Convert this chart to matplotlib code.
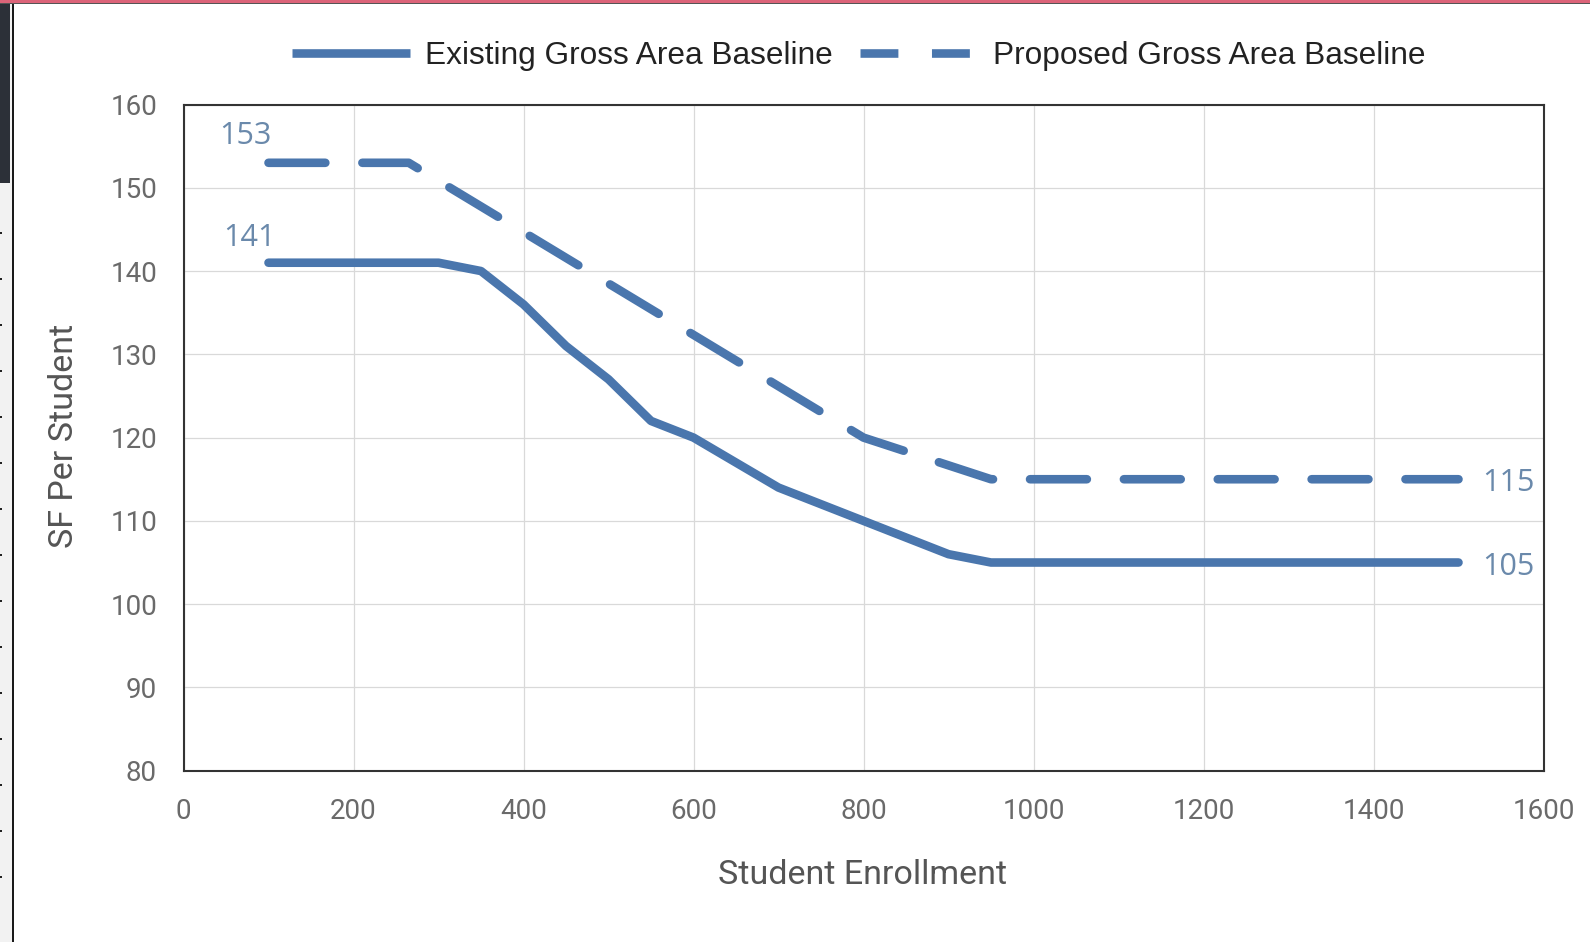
import matplotlib
matplotlib.use("Agg")
import matplotlib.pyplot as plt
from matplotlib.lines import Line2D
from matplotlib.patches import Rectangle

# Square feet per student vs. enrollment
enrollment_existing = [100, 300, 350, 400, 450, 500, 550, 600, 700, 800, 900, 950, 1500]
sf_existing = [141, 141, 140, 136, 131, 127, 122, 120, 114, 110, 106, 105, 105]
enrollment_proposed = [100, 265, 800, 950, 1500]
sf_proposed = [153, 153, 120, 115, 115]

series_names = ["Existing Gross Area Baseline", "Proposed Gross Area Baseline"]
x_ticks = list(range(0, 1601, 200))
y_ticks = list(range(80, 161, 10))
x_title = "Student Enrollment"
y_title = "SF Per Student"

LINE_COLOR = "#4a76ad"
LABEL_COLOR = "#6a89ab"
LW = 6.2
DASH = (6.6, 4.3)

W, H = 1590, 942
fig = plt.figure(figsize=(W / 100, H / 100), dpi=100)
fig.patch.set_facecolor("white")


def fx(px):
    return px / W


def fy(py):
    return 1 - py / H


# window chrome around the chart
fig.add_artist(Rectangle((0, 0), fx(12), 1, transform=fig.transFigure,
                         facecolor="#f2f2f2", edgecolor="none"))
fig.add_artist(Rectangle((0, fy(183)), fx(10), fy(0) - fy(183), transform=fig.transFigure,
                         facecolor="#2c3038", edgecolor="none"))
for yy in range(232, 920, 46):
    fig.add_artist(Rectangle((0, fy(yy + 2)), fx(2), fy(yy) - fy(yy + 2),
                             transform=fig.transFigure, facecolor="#222222",
                             edgecolor="none"))
fig.add_artist(Rectangle((fx(12), 0), fx(2), 1, transform=fig.transFigure,
                         facecolor="#1a1a1a", edgecolor="none"))
fig.add_artist(Rectangle((0, fy(3)), 1, fy(0) - fy(3), transform=fig.transFigure,
                         facecolor="#dc6479", edgecolor="none"))
fig.add_artist(Rectangle((0, fy(4)), 1, fy(3) - fy(4), transform=fig.transFigure,
                         facecolor="#555555", edgecolor="none"))

ax = fig.add_axes([fx(183.5), fy(770.7), fx(1543.5) - fx(183.5), fy(104.5) - fy(770.7)])
ax.set_facecolor("white")

ax.plot(enrollment_existing, sf_existing, color=LINE_COLOR, lw=LW,
        solid_capstyle="round", solid_joinstyle="round", zorder=3)
ax.plot(enrollment_proposed, sf_proposed, color=LINE_COLOR, lw=LW,
        linestyle=(0, DASH), dash_capstyle="round", dash_joinstyle="round", zorder=3)

ax.set_xlim(x_ticks[0], x_ticks[-1])
ax.set_ylim(y_ticks[0], y_ticks[-1])
ax.set_xticks(x_ticks)
ax.set_yticks(y_ticks)
ax.grid(True, color="#d9d9d9", lw=0.9, zorder=0)
ax.set_axisbelow(True)
for s in ax.spines.values():
    s.set_color("#333333")
    s.set_linewidth(1.5)

ax.tick_params(length=0, labelcolor="#6a6a6a")
ax.tick_params(axis="x", pad=20)
ax.tick_params(axis="y", pad=19)
for lab in ax.get_xticklabels() + ax.get_yticklabels():
    lab.set_fontfamily(["Roboto", "DejaVu Sans"])
    lab.set_fontsize(20)

ax.set_xlabel(x_title, fontsize=24.5, color="#555555", family=["Roboto", "DejaVu Sans"])
ax.set_ylabel(y_title, fontsize=24.5, color="#555555", family=["Roboto", "DejaVu Sans"])
ax.xaxis.set_label_coords((863 - 183.5) / 1360, -(875 - 770.7) / 666.2)
ax.yaxis.set_label_coords(-(183.5 - 64) / 1360, 1 - (436 - 104.5) / 666.2)
ax.xaxis.label.set_va("center")
ax.yaxis.label.set_va("center")

# value labels at the ends of each series
label_kw = dict(textcoords="offset points", color=LABEL_COLOR, fontsize=22,
                family=["Open Sans", "DejaVu Sans"], va="center")
ax.annotate(f"{sf_proposed[0]:g}", (enrollment_proposed[0], sf_proposed[0]),
            xytext=(-16.5, 19), ha="center", **label_kw)
ax.annotate(f"{sf_existing[0]:g}", (enrollment_existing[0], sf_existing[0]),
            xytext=(-13.5, 18), ha="center", **label_kw)
ax.annotate(f"{sf_proposed[-1]:g}", (enrollment_proposed[-1], sf_proposed[-1]),
            xytext=(17, -3), ha="left", **label_kw)
ax.annotate(f"{sf_existing[-1]:g}", (enrollment_existing[-1], sf_existing[-1]),
            xytext=(17, -3), ha="left", **label_kw)

handles = [
    Line2D([], [], color=LINE_COLOR, lw=LW, solid_capstyle="butt"),
    Line2D([], [], color=LINE_COLOR, lw=LW, linestyle=(0, (4.4, 3.9)),
           dash_capstyle="butt"),
]
leg = ax.legend(handles, series_names, loc="center",
                bbox_to_anchor=((859 - 183.5) / 1360, 1 + (104.5 - 56) / 666.2),
                ncol=2, frameon=False, handlelength=3.7, handletextpad=0.5,
                columnspacing=0.85, prop={"family": ["Liberation Sans", "DejaVu Sans"],
                                          "size": 22.8})
for t in leg.get_texts():
    t.set_color("#222222")

fig.savefig("out.png", dpi=100, facecolor="white")
